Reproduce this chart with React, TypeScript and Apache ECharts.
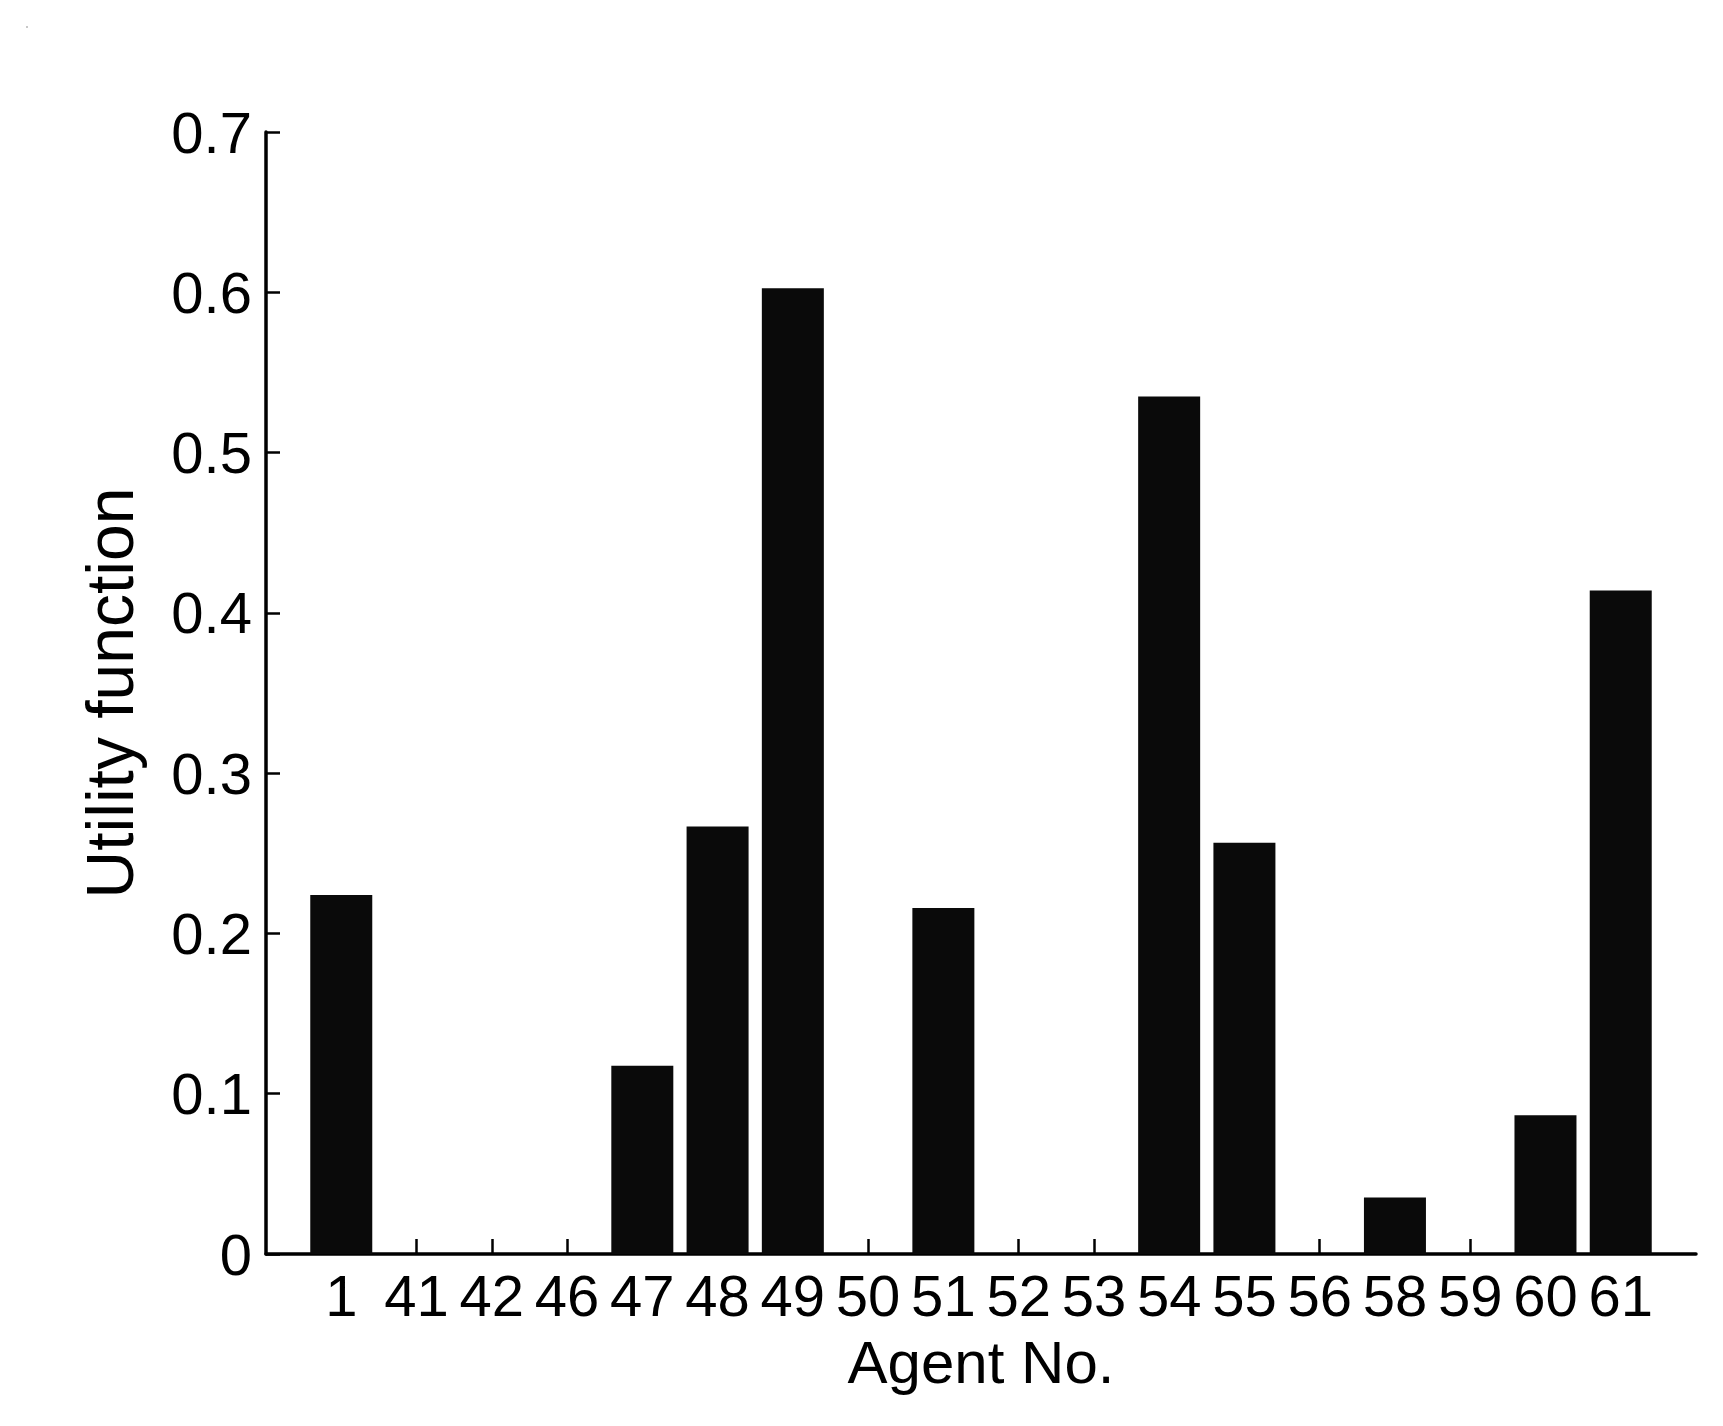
import React, { useEffect, useRef } from "react";
import * as echarts from "echarts";

const agents = ["1", "41", "42", "46", "47", "48", "49", "50", "51", "52", "53", "54", "55", "56", "58", "59", "60", "61"];
const utility = [0.224, 0, 0, 0, 0.1175, 0.2667, 0.6025, 0, 0.2158, 0, 0, 0.535, 0.2566, 0, 0.0353, 0, 0.0865, 0.414];
const yMin = 0;
const yMax = 0.7;
const yStep = 0.1;
const xTitle = "Agent No.";
const yTitle = "Utility function";

const FONT = "'Liberation Sans', Arial, Helvetica, sans-serif";

export default function App() {
  const ref = useRef<HTMLDivElement>(null);
  useEffect(() => {
    if (!ref.current) return;
    const chart = echarts.init(ref.current, null, { renderer: "svg" });
    const positions = agents.map((_, i) => i + 1);
    chart.setOption({
      animation: false,
      backgroundColor: "#ffffff",
      graphic: [
        { type: "rect", shape: { x: 26, y: 26, width: 2, height: 2 }, style: { fill: "#c8c8c8" } },
      ],
      grid: { left: 266, top: 132, width: 1430, height: 1122, containLabel: false },
      xAxis: {
        type: "value",
        min: 0,
        max: agents.length + 1,
        interval: 1,
        splitLine: { show: false },
        axisLine: { show: true, onZero: false, lineStyle: { color: "#000", width: 3.5 } },
        axisTick: { show: true, inside: true, length: 15, customValues: positions, lineStyle: { color: "#000", width: 2.5 } },
        axisLabel: {
          show: true,
          customValues: positions,
          margin: 12,
          color: "#000",
          fontFamily: FONT,
          fontSize: 58,
          formatter: (v: number) => agents[Math.round(v) - 1] ?? "",
        },
        name: xTitle,
        nameLocation: "middle",
        nameGap: 78,
        nameMoveOverlap: false,
        nameTextStyle: { color: "#000", fontFamily: FONT, fontSize: 60 },
      },
      yAxis: {
        type: "value",
        min: yMin,
        max: yMax,
        interval: yStep,
        splitLine: { show: false },
        axisLine: { show: true, lineStyle: { color: "#000", width: 3.5 } },
        axisTick: { show: true, inside: true, length: 14, lineStyle: { color: "#000", width: 2.5 } },
        axisLabel: {
          margin: 14,
          color: "#000",
          fontFamily: FONT,
          fontSize: 58,
          formatter: (v: number) => (v === 0 ? "0" : v.toFixed(1)),
        },
        name: yTitle,
        nameLocation: "middle",
        nameGap: 123,
        nameMoveOverlap: false,
        nameTextStyle: { color: "#000", fontFamily: FONT, fontSize: 66 },
      },
      series: [
        {
          type: "bar",
          data: agents.map((_, i) => [i + 1, utility[i]]),
          barWidth: 62,
          itemStyle: { color: "#0a0a0a" },
          silent: true,
        },
      ],
    });
    return () => chart.dispose();
  }, []);
  return (
    <div
      ref={ref}
      style={{ position: "fixed", left: 0, top: 0, width: 1723, height: 1426, background: "#fff" }}
    />
  );
}
